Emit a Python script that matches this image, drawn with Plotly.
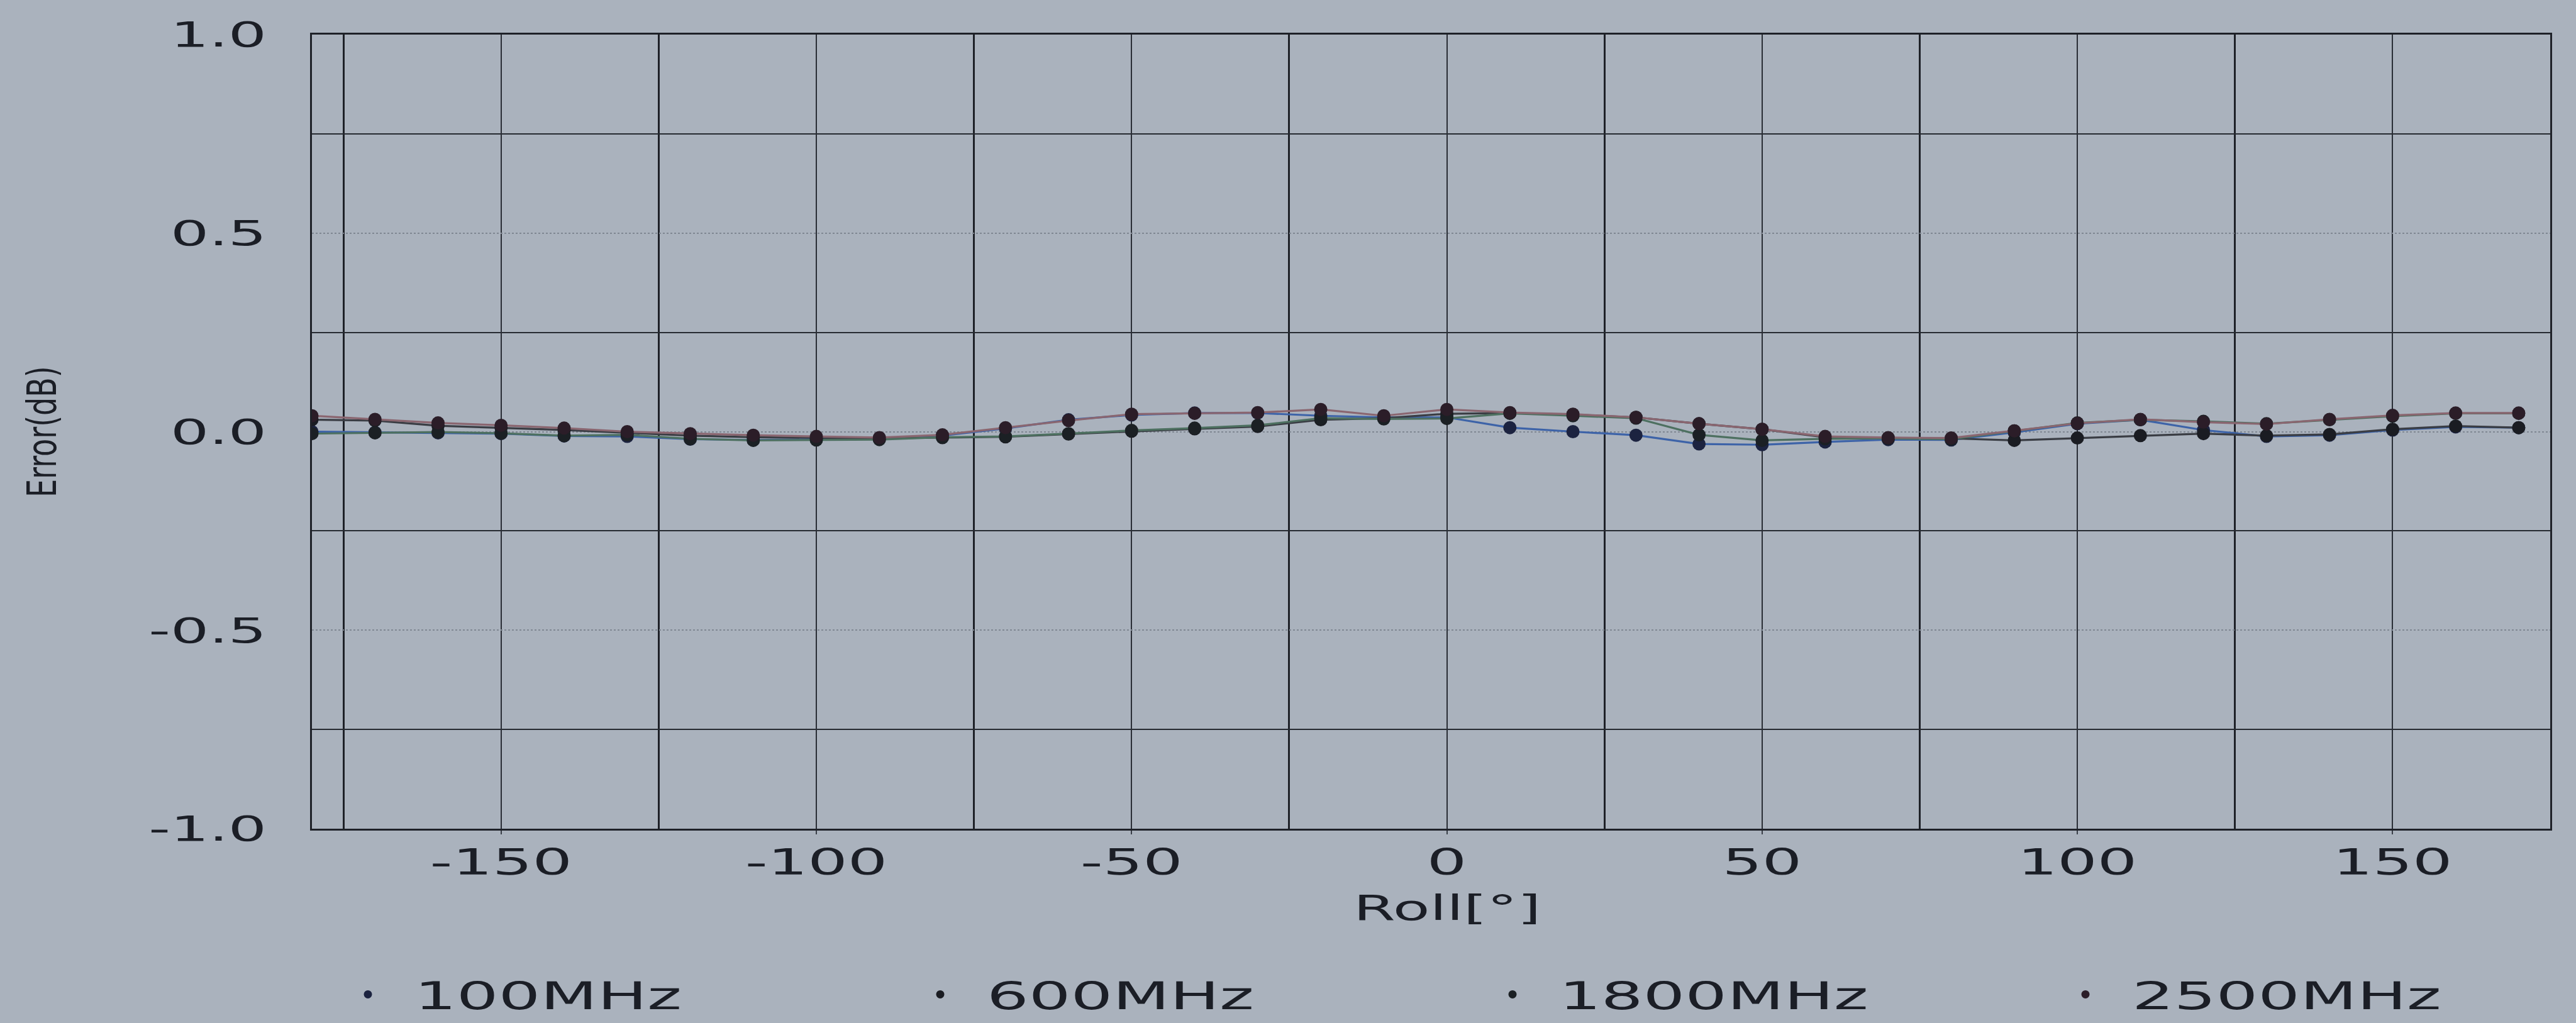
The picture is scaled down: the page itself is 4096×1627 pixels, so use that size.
import plotly.graph_objects as go

# ---------------- data ----------------
roll_deg = [-180, -170, -160, -150, -140, -130, -120, -110, -100, -90, -80, -70,
            -60, -50, -40, -30, -20, -10, 0, 10, 20, 30, 40, 50,
            60, 70, 80, 90, 100, 110, 120, 130, 140, 150, 160, 170]

err_100mhz = [0.000, -0.002, -0.003, -0.005, -0.011, -0.012, -0.019, -0.021, -0.019, -0.018, -0.010, 0.008,
              0.030, 0.042, 0.047, 0.047, 0.040, 0.036, 0.036, 0.010, 0.000, -0.009, -0.031, -0.033,
              -0.026, -0.020, -0.021, -0.002, 0.020, 0.030, 0.004, -0.012, -0.009, 0.004, 0.012, 0.010]
err_600mhz = [0.030, 0.028, 0.015, 0.010, 0.004, -0.003, -0.010, -0.014, -0.016, -0.017, -0.015, -0.013,
              -0.006, 0.001, 0.007, 0.013, 0.030, 0.034, 0.045, 0.047, 0.043, 0.036, 0.020, 0.006,
              -0.014, -0.016, -0.017, -0.022, -0.016, -0.010, -0.005, -0.010, -0.007, 0.006, 0.014, 0.010]
err_1800mhz = [-0.005, -0.003, -0.001, -0.004, -0.010, -0.008, -0.018, -0.022, -0.021, -0.020, -0.014, -0.012,
               -0.005, 0.003, 0.009, 0.016, 0.034, 0.032, 0.033, 0.046, 0.040, 0.034, -0.008, -0.022,
               -0.018, -0.017, -0.019, 0.002, 0.022, 0.030, 0.026, 0.020, 0.030, 0.039, 0.046, 0.046]
err_2500mhz = [0.040, 0.031, 0.022, 0.016, 0.009, 0.000, -0.005, -0.009, -0.012, -0.015, -0.008, 0.010,
               0.028, 0.044, 0.046, 0.048, 0.056, 0.040, 0.056, 0.048, 0.044, 0.036, 0.020, 0.006,
               -0.012, -0.015, -0.016, 0.002, 0.021, 0.031, 0.024, 0.019, 0.031, 0.041, 0.047, 0.047]

series_names = ["100MHz", "600MHz", "1800MHz", "2500MHz"]
series_values = [err_100mhz, err_600mhz, err_1800mhz, err_2500mhz]

x_tick_vals = [-150, -100, -50, 0, 50, 100, 150]
x_tick_text = ["-150", "-100", "-50", "0", "50", "100", "150"]
x_dark_grid = [-175, -125, -75, -25, 25, 75, 125, 175]
y_tick_vals = [-1.0, -0.5, 0.0, 0.5, 1.0]
y_tick_text = ["-1.0", "-0.5", "0.0", "0.5", "1.0"]
y_dark_grid = [-0.75, -0.25, 0.25, 0.75]

x_title = "Roll[°]"
y_title = "Error(dB)"

# ---------------- style ----------------
W, H = 4096, 1627
L, R, T, B = 496, 41, 55, 309
BG = "#aab2bd"
INK = "#1b1e26"
line_colors = ["#3d63a8", "#3a3d44", "#4d7060", "#8a6670"]
marker_colors = ["#1c2340", "#1a1c22", "#1b2024", "#2b1d28"]
FONT = "DejaVu Sans, Verdana, sans-serif"

# legend entry positions (page pixels, left edge of each legend box)
legend_px = [511, 1421, 2331, 3242]
legend_keys = ["legend", "legend2", "legend3", "legend4"]

fig = go.Figure()

for name, vals, lc, mc in zip(series_names, series_values, line_colors, marker_colors):
    fig.add_trace(go.Scatter(
        x=roll_deg, y=vals, mode="lines+markers", name=name, showlegend=False,
        line=dict(color=lc, width=3.2),
        marker=dict(color=mc, size=21, symbol="circle"),
    ))

# legend-only entries (small dark dot, as in the reference)
for name, mc, lk in zip(series_names, marker_colors, legend_keys):
    fig.add_trace(go.Scatter(
        x=[None], y=[None], mode="markers", name=name, showlegend=True,
        legend=lk,
        marker=dict(color=mc, size=13),
    ))

legend_common = dict(
    orientation="h", xref="container", yref="container",
    xanchor="left", y=0.028, yanchor="middle",
    bgcolor="rgba(0,0,0,0)", font=dict(size=60, family=FONT, color=INK),
    itemwidth=138,
)

layout_legends = {}
for lk, px in zip(legend_keys, legend_px):
    d = dict(legend_common)
    d["x"] = px / W
    layout_legends[lk] = d

fig.update_layout(
    width=W, height=H,
    margin=dict(l=L, r=R, t=T, b=B, pad=0, autoexpand=False),
    paper_bgcolor=BG, plot_bgcolor=BG,
    font=dict(family=FONT, color=INK, size=55),
    showlegend=True,
    xaxis=dict(
        range=[-180, 175], autorange=False,
        tickmode="array", tickvals=x_tick_vals, ticktext=x_tick_text,
        ticks="outside", ticklen=6, tickwidth=1.5, tickcolor="#3a3f48",
        ticklabelstandoff=-4,
        tickfont=dict(size=57, family=FONT, color=INK),
        showgrid=True, gridcolor="#2a2e36", gridwidth=2,
        minor=dict(tickmode="array", tickvals=x_dark_grid, showgrid=True,
                   gridcolor="#1e2128", gridwidth=2.6, griddash="solid", ticks=""),
        showline=True, linecolor="#1e2128", linewidth=3, mirror=True,
        zeroline=False, fixedrange=True, automargin=False,
    ),
    yaxis=dict(
        range=[-1.0, 1.0], autorange=False,
        tickmode="array", tickvals=y_tick_vals, ticktext=y_tick_text,
        ticks="", ticklabelstandoff=58,
        tickfont=dict(size=55, family=FONT, color=INK),
        showgrid=True, gridcolor="#7f8792", gridwidth=1.5, griddash="dot",
        minor=dict(tickmode="array", tickvals=y_dark_grid, showgrid=True,
                   gridcolor="#262a31", gridwidth=2.4, griddash="solid", ticks=""),
        showline=True, linecolor="#1e2128", linewidth=3, mirror=True,
        zeroline=False, fixedrange=True, automargin=False,
    ),
    annotations=[
        dict(text=x_title, xref="x", yref="paper", x=0, y=-0.100,
             xanchor="center", yanchor="middle", showarrow=False,
             font=dict(size=55, family=FONT, color=INK)),
        dict(text=y_title, xref="paper", yref="paper", x=-0.119, y=0.5,
             xanchor="center", yanchor="middle", showarrow=False, textangle=-90,
             font=dict(size=46, family=FONT, color=INK)),
    ],
    **layout_legends,
)

# The reference photo shows all horizontal text widened; emulate it by a
# horizontal scale about each label's anchor point (text stays real text).
post = """
(function(){
  document.body.style.margin = '0';
  var st = document.createElement('style');
  st.textContent = '.infolayer g[class^="legend"] text{transform-box:fill-box;transform-origin:0% 50%;transform:scaleX(1.75);}' +
                   '.infolayer g[class^="legend"] g{clip-path:none !important;}';
  document.head.appendChild(st);
  var S = 1.75;
  function stretchX(t){
    var tr = t.getAttribute('transform') || '';
    if (tr.indexOf('scale(') >= 0) return;
    var x = parseFloat(t.getAttribute('x')) || 0;
    t.setAttribute('transform', tr + ' translate(' + x + ',0) scale(' + S + ',1) translate(' + (-x) + ',0)');
  }
  function stretchGlyphHeight(t){
    var tr = t.getAttribute('transform') || '';
    if (tr.indexOf('scale(') >= 0) return;
    var x = parseFloat(t.getAttribute('x')) || 0;
    var y = parseFloat(t.getAttribute('y')) || 0;
    t.setAttribute('transform', tr + ' translate(' + x + ',' + y + ') scale(1,1.4) translate(' + (-x) + ',' + (-y) + ')');
  }
  function apply(){
    ['.xtick text', '.ytick text', '.annotation[data-index="0"] text'].forEach(function(sel){
      document.querySelectorAll(sel).forEach(stretchX);
    });
    document.querySelectorAll('.annotation[data-index="1"] text').forEach(stretchGlyphHeight);
  }
  apply();
  var gd = document.querySelector('.plotly-graph-div');
  if (gd) {
    var mo = new MutationObserver(function(){ apply(); });
    mo.observe(gd, {childList: true, subtree: true});
    if (gd.on) { gd.on('plotly_afterplot', apply); }
  }
  setTimeout(apply, 50);
  setTimeout(apply, 300);
  setTimeout(apply, 1500);
})();
"""

fig.write_html("out.html", post_script=post, config={"displayModeBar": False})
